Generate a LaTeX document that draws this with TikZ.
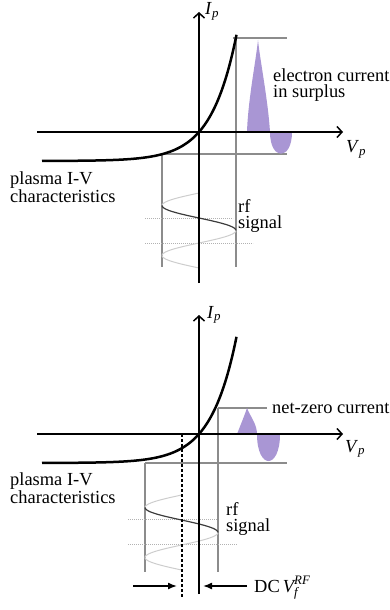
\documentclass[tikz,border=0pt]{standalone}
\usepackage{amsmath}
\usepackage{fontspec}
\setmainfont{Liberation Serif}
\usetikzlibrary{arrows.meta}
\definecolor{lobepurple}{RGB}{169,150,212}
\definecolor{guidegray}{RGB}{140,140,140}
\definecolor{sigdark}{RGB}{60,60,60}
\definecolor{siglight}{RGB}{205,205,205}

\begin{document}
\begin{tikzpicture}[x=1bp,y=-1bp,
    lbl/.style={font=\fontsize{18.5}{16.5}\selectfont,inner sep=0pt,anchor=base west,align=left},
    axis/.style={line width=1.5bp,-{Straight Barb[length=5bp,width=11bp]}},
    ivcurve/.style={line width=2.5bp},
    guide/.style={guidegray,line width=1.6bp},
    lobe/.style={fill=lobepurple},
    sigfaint/.style={siglight,line width=1bp},
    sigbold/.style={sigdark,line width=1.2bp},
    zeroline/.style={black!30,line width=0.6bp,dash pattern=on 1bp off 1bp},
    dcline/.style={line width=1.5bp,dash pattern=on 3bp off 2bp},
    dcarrow/.style={line width=1.5bp,-{Latex[length=9bp,width=7bp]}}
  ]
  \useasboundingbox (0,0) rectangle (389,610);

  % upper plot: bias at zero
  \coordinate (xa1) at (37,132);
  \coordinate (xb1) at (343,132);
  \coordinate (ya1) at (199,283);
  \coordinate (yb1) at (199,12);

  \draw[guide] (233,38) -- (287,38);
  \draw[guide] (236,38) -- (236,267);
  \draw[guide] (162,154) -- (287,154);
  \draw[guide] (162,154) -- (162,267);
  \draw[zeroline] (145,218) -- (233,218);
  \draw[zeroline] (145,243) -- (253,243);

  \fill[lobe] (247,132) .. controls (248,100) and (256,60) .. (258,40)
    .. controls (260,60) and (268,100) .. (270,132)
    .. controls (270,161) and (292,161) .. (292,132) -- cycle;

  \draw[sigfaint] plot[domain=193:205.5,samples=12,smooth] ({199-37*sin(7.2*(\x-193))},\x);
  \draw[sigbold] plot[domain=205.5:230.5,samples=25,smooth] ({199-37*sin(7.2*(\x-193))},\x);
  \draw[sigfaint] plot[domain=230.5:268,samples=36,smooth] ({199-37*sin(7.2*(\x-193))},\x);

  \draw[axis] (xa1) -- (xb1);
  \draw[axis] (ya1) -- (yb1);
  \draw[ivcurve] plot[domain=-157:37.5,samples=100,smooth] ({199+\x},{132-29*(exp(\x/25.5)-1)});

  \node[lbl] (ip1) at (205,15) {\textit{I}\textsubscript{\textit{p}}};
  \node[lbl] (vp1) at (346,153) {\textit{V}\textsubscript{\textit{p}}};
  \node[lbl] (surplus) at (273,97.5) {electron current\\in surplus};
  \node[lbl] (iv1) at (10,202) {plasma I-V\\characteristics};
  \node[lbl] (rf1) at (238,228.5) {rf\\signal};

  % lower plot: self-biased at floating potential
  \coordinate (xa2) at (37,434);
  \coordinate (xb2) at (343,434);
  \coordinate (ya2) at (199,594);
  \coordinate (yb2) at (199,315);
  \coordinate (vf) at (182,434);
  \coordinate (vfb) at (182,597);

  \draw[guide] (218,408) -- (267,408);
  \draw[guide] (218,408) -- (218,572);
  \draw[guide] (145,463) -- (287,463);
  \draw[guide] (145,463) -- (145,572);
  \draw[zeroline] (128,519) -- (217,519);
  \draw[zeroline] (128,544) -- (237,544);

  \fill[lobe] (237,434) .. controls (241,424) and (245,414) .. (247,408)
    .. controls (250,416) and (257,424) .. (257,434)
    .. controls (257,470) and (280,470) .. (280,434) -- cycle;

  \draw[sigfaint] plot[domain=495:507.5,samples=12,smooth] ({181.5-36.5*sin(7.2*(\x-495))},\x);
  \draw[sigbold] plot[domain=507.5:532.5,samples=25,smooth] ({181.5-36.5*sin(7.2*(\x-495))},\x);
  \draw[sigfaint] plot[domain=532.5:570,samples=36,smooth] ({181.5-36.5*sin(7.2*(\x-495))},\x);

  \draw[dcline] (vf) -- (vfb);
  \draw[axis] (xa2) -- (xb2);
  \draw[axis] (ya2) -- (yb2);
  \draw[ivcurve] plot[domain=-157:37.5,samples=100,smooth] ({199+\x},{434-29*(exp(\x/25.5)-1)});

  \coordinate (dca) at (133,586);
  \coordinate (dcb) at (177,586);
  \coordinate (dcc) at (247,586);
  \coordinate (dcd) at (203,586);
  \draw[dcarrow] (dca) -- (dcb);
  \draw[dcarrow] (dcc) -- (dcd);

  \node[lbl] (ip2) at (207,318) {\textit{I}\textsubscript{\textit{p}}};
  \node[lbl] (vp2) at (345,452) {\textit{V}\textsubscript{\textit{p}}};
  \node[lbl] (netzero) at (272,413) {net-zero current};
  \node[lbl] (iv2) at (10,503) {plasma I-V\\characteristics};
  \node[lbl] (rf2) at (226,531.5) {rf\\signal};
  \node[lbl] (dcvf) at (254,592) {DC\,$\textit{V}^{\textit{RF}}_{\textit{f}}$};
\end{tikzpicture}
\end{document}
